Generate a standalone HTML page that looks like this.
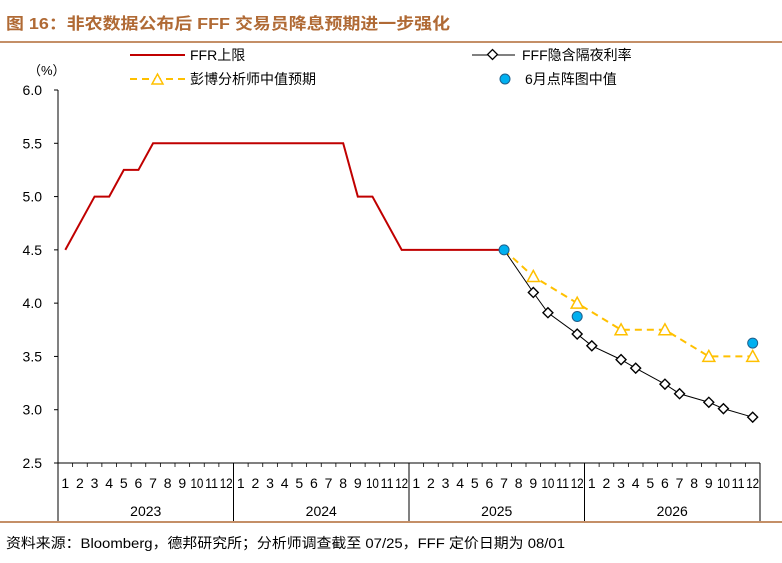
<!DOCTYPE html>
<html><head><meta charset="utf-8"><style>
body{margin:0;background:#fff;}
svg{display:block;font-family:"Liberation Sans","Noto Sans CJK SC",sans-serif;}
</style></head><body>
<svg width="782" height="563" viewBox="0 0 782 563">
<text x="6" y="29" font-size="16" font-weight="bold" fill="#b06a35" textLength="444" lengthAdjust="spacingAndGlyphs">图 16：非农数据公布后 FFF 交易员降息预期进一步强化</text>
<line x1="0" y1="42" x2="782" y2="42" stroke="#b06a35" stroke-width="1.5"/>
<line x1="0" y1="522" x2="782" y2="522" stroke="#b06a35" stroke-width="1.5"/>
<text x="6" y="548" font-size="14" fill="#000" textLength="559" lengthAdjust="spacingAndGlyphs">资料来源：Bloomberg，德邦研究所；分析师调查截至 07/25，FFF 定价日期为 08/01</text>
<text x="28" y="75" font-size="13">（%）</text>
<g id="legend">
<g><line x1="130" y1="55" x2="185" y2="55" stroke="#c00000" stroke-width="2"/><text x="190" y="60" font-size="14">FFR上限</text></g>
<g><line x1="472" y1="55" x2="515" y2="55" stroke="#000" stroke-width="1"/><rect x="489" y="51" width="7" height="7" fill="#fff" stroke="#000" stroke-width="1.3" transform="rotate(45 492.5 54.5)"/><text x="522" y="60" font-size="14">FFF隐含隔夜利率</text></g>
<g><line x1="130" y1="79" x2="185" y2="79" stroke="#ffc000" stroke-width="2" stroke-dasharray="7,5"/><path d="M152,84 L157.5,74 L163,84 Z" fill="#fff" stroke="#ffc000" stroke-width="1.5"/><text x="190" y="84" font-size="14">彭博分析师中值预期</text></g>
<g><circle cx="505" cy="79" r="5" fill="#00b0f0" stroke="#1f5f8b" stroke-width="1"/><text x="525" y="84" font-size="14">6月点阵图中值</text></g>
</g>
<g id="axes"></g>
<g id="plot"></g>
</svg>
<script>
const yTicks=[2.5,3.0,3.5,4.0,4.5,5.0,5.5,6.0];
const years=["2023","2024","2025","2026"];
const monthLabels=["1","2","3","4","5","6","7","8","9","10","11","12"];
// month index: 0 = Jan 2023
const ffrMonths=[0,2,3,4,5,6,19,20,21,23,30];
const ffrValues=[4.5,5.0,5.0,5.25,5.25,5.5,5.5,5.0,5.0,4.5,4.5];
const fffMonths=[30,32,33,35,36,38,39,41,42,44,45,47];
const fffValues=[4.5,4.10,3.91,3.71,3.60,3.47,3.39,3.24,3.15,3.07,3.01,2.93];
const analystMonths=[30,32,35,38,41,44,47];
const analystValues=[4.5,4.25,4.0,3.75,3.75,3.5,3.5];
const dotMonths=[30,35,47];
const dotValues=[4.5,3.875,3.625];

const NS="http://www.w3.org/2000/svg";
const X0=58,MW=14.625,Y0=463,YS=106.57;
function xs(m){return X0+(m+0.5)*MW;}
function ys(v){return Y0-(v-2.5)*YS;}
function mk(t,a,p){const e=document.createElementNS(NS,t);for(const k in a)e.setAttribute(k,a[k]);p.appendChild(e);return e;}
const axes=document.getElementById('axes'),plot=document.getElementById('plot');
const yAxis=mk('line',{x1:X0,y1:90,x2:X0,y2:463,stroke:'#000'},axes);


yTicks.forEach(v=>{
 const t=mk('text',{x:42,y:ys(v)+5,'font-size':14,'text-anchor':'end'},axes);t.textContent=v.toFixed(1);
 
 
 mk('line',{x1:X0-4,y1:ys(v),x2:X0,y2:ys(v),stroke:'#000'},axes);
});
const xAxis=mk('line',{x1:X0,y1:463,x2:X0+48*MW,y2:463,stroke:'#000'},axes);


for(let i=0;i<=48;i++){mk('line',{x1:X0+i*MW,y1:463,x2:X0+i*MW,y2:467,stroke:'#000','stroke-width':0.8},axes);}
years.forEach((y,yi)=>{
 const sx=X0+yi*12*MW;
 mk('line',{x1:sx,y1:463,x2:sx,y2:521,stroke:'#000'},axes);
 if(yi==3) mk('line',{x1:sx+12*MW,y1:463,x2:sx+12*MW,y2:521,stroke:'#000'},axes);
 const t=mk('text',{x:sx+6*MW,y:516,'font-size':14,'text-anchor':'middle'},axes);t.textContent=y;
 
 
 monthLabels.forEach((m,mi)=>{
  const l=mk('text',{x:xs(yi*12+mi),y:488,'font-size':14,'text-anchor':'middle'},axes);
  if(m.length>1){l.setAttribute('textLength',13);l.setAttribute('lengthAdjust','spacingAndGlyphs');}
  l.textContent=m;
  
  
 });
});
const ffr=mk('polyline',{points:ffrMonths.map((m,i)=>xs(m)+','+ys(ffrValues[i])).join(' '),fill:'none',stroke:'#c00000','stroke-width':2},plot);


const an=mk('polyline',{points:analystMonths.map((m,i)=>xs(m)+','+ys(analystValues[i])).join(' '),fill:'none',stroke:'#ffc000','stroke-width':2,'stroke-dasharray':'7,5'},plot);


analystMonths.forEach((m,i)=>{if(i==0)return;const x=xs(m),y=ys(analystValues[i]);
 const p=mk('path',{d:`M${x-6},${y+5} L${x},${y-6} L${x+6},${y+5} Z`,fill:'#fff',stroke:'#ffc000','stroke-width':1.5},plot);
 
 });
const ff=mk('polyline',{points:fffMonths.map((m,i)=>xs(m)+','+ys(fffValues[i])).join(' '),fill:'none',stroke:'#000','stroke-width':1},plot);


fffMonths.forEach((m,i)=>{if(i==0)return;const x=xs(m),y=ys(fffValues[i]);
 const r=mk('rect',{x:x-3.5,y:y-3.5,width:7,height:7,fill:'#fff',stroke:'#000','stroke-width':1.4,transform:`rotate(45 ${x} ${y})`},plot);
 
 });
dotMonths.forEach((m,i)=>{
 const c=mk('circle',{cx:xs(m),cy:ys(dotValues[i]),r:5,fill:'#00b0f0',stroke:'#1f5f8b','stroke-width':1},plot);
 
 });
</script>
</body></html>
